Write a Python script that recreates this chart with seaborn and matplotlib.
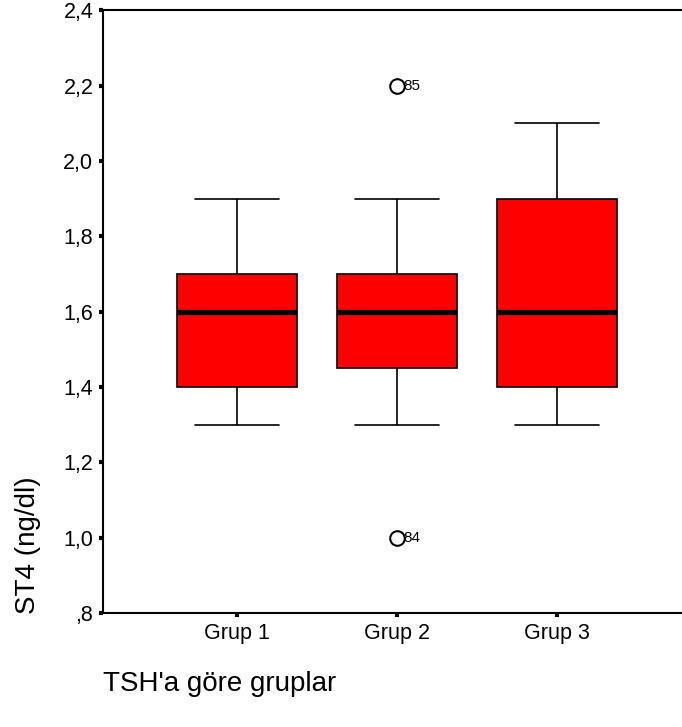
import matplotlib
matplotlib.use("Agg")
from matplotlib import pyplot as plt
from matplotlib.ticker import FuncFormatter
import pandas as pd
import seaborn as sns

groups = ["Grup 1", "Grup 2", "Grup 3"]
grup1 = [1.3, 1.4, 1.4, 1.5, 1.6, 1.6, 1.7, 1.7, 1.9]
grup2 = [1.0, 1.3, 1.4, 1.5, 1.6, 1.6, 1.6, 1.7, 1.7, 1.9, 2.2]
grup3 = [1.3, 1.4, 1.4, 1.5, 1.6, 1.7, 1.9, 1.9, 2.1]
outlier_ids = {"85": ("Grup 2", 2.2), "84": ("Grup 2", 1.0)}
y_ticks = [0.8, 1.0, 1.2, 1.4, 1.6, 1.8, 2.0, 2.2, 2.4]

sns.set_style("ticks")
plt.rcParams["font.family"] = ["Liberation Sans", "DejaVu Sans"]
plt.rcParams.update({"text.color": "black", "axes.labelcolor": "black",
                     "xtick.color": "black", "ytick.color": "black"})

rows = []
for name, values in zip(groups, [grup1, grup2, grup3]):
    for v in values:
        rows.append({"grup": name, "st4": v})
df = pd.DataFrame(rows)

fig = plt.figure(figsize = (6.82, 7.27), dpi = 100)
ax = fig.add_axes([0.151, 0.157, 0.862, 0.829])

sns.boxplot(data = df, x = "grup", y = "st4", order = groups, color = "#ff0000", saturation = 1,
            width = 0.75, linecolor = "black", linewidth = 1.2, fliersize = 10.5, capwidths = 0.53,
            medianprops = {"linewidth": 3.8, "color": "black"},
            flierprops = {"marker": "o", "markerfacecolor": "none", "markeredgecolor": "black", "markeredgewidth": 1.5},
            ax = ax)

for label, (grp, val) in outlier_ids.items():
    ax.annotate(label, (groups.index(grp), val), xytext = (5, 0), textcoords = "offset points",
                ha = "left", va = "center", fontsize = 11, color = "black")

ax.set_xlim(-0.8375, 2.8375)
ax.set_ylim(0.8, 2.4)
ax.set_yticks(y_ticks)
ax.yaxis.set_major_formatter(FuncFormatter(lambda v, p: ("%.1f" % v).replace(".", ",").lstrip("0")))
ax.tick_params(axis = "both", direction = "out", length = 3, width = 3, labelsize = 15.5,
               color = "black", labelcolor = "black", pad = 4)

for side in ["left", "bottom", "top"]:
    ax.spines[side].set_linewidth(1.5)
    ax.spines[side].set_color("black")
ax.spines["right"].set_visible(False)

ax.set_xlabel("TSH'a göre gruplar", fontsize = 20, loc = "left", color = "black")
ax.xaxis.set_label_coords(0, -0.096)
ax.set_ylabel("ST4 (ng/dl)", fontsize = 20, color = "black")
ax.yaxis.set_label_coords(-0.105, 0.113)

fig.savefig("out.png", dpi = 100)
